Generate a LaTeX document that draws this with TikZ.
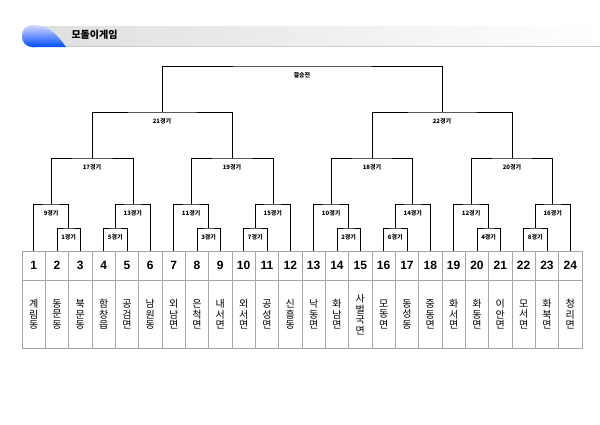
\documentclass[tikz,border=0pt]{standalone}
\usepackage{fontspec}
\setmainfont{Liberation Sans}
\newfontfamily\kor{Noto Sans CJK KR}
\usetikzlibrary{calc,positioning}

\tikzset{
  numcell/.style={draw=gray!70, minimum width=23.33pt, minimum height=29pt, inner sep=0pt, font=\bfseries\fontsize{12}{12}\selectfont},
  namecell/.style={draw=gray!70, minimum width=23.33pt, minimum height=68pt, inner sep=0pt, align=center, font=\kor\fontsize{10}{10.5}\selectfont},
  bracket/.style={draw=black, line width=0.6pt},
  gamelabel/.style={font=\kor\bfseries\fontsize{6}{6}\selectfont, below=3pt}
}
\newcommand{\game}[5]{%
  \path ($(#1)!.5!(#2)$) coordinate (#4-b);
  \coordinate (#4) at (#4-b |- 0,#3);
  \draw[bracket] (#1) |- (#4) -| (#2);
  \node[gamelabel] (#4-lbl) at (#4) {#5};
}

\begin{document}
\begin{tikzpicture}[x=1pt,y=-1pt]
  \useasboundingbox (0,0) rectangle (600,424);

  % Titelbalken
  \shade[left color=gray!25, right color=white] (40,26) rectangle (600,46);
  \draw[gray!40] (60,46) -- (600,46);
  \shade[top color=blue!15, bottom color=blue!70!cyan] (32,25) .. controls (50,25) and (58,36) .. (66,47) -- (32,47) arc (90:270:-0.01pt) -- cycle;
  \shade[top color=blue!15, bottom color=blue!70!cyan, rounded corners=10pt] (22,25) rectangle (45,47);
  \node[font=\kor\bfseries\fontsize{10}{10}\selectfont, anchor=west] (title) at (68,35) {모돌이게임};

  % Tabelle
  \foreach \n/\name [count=\i] in {
      1/{계\\림\\동}, 2/{동\\문\\동}, 3/{북\\문\\동}, 4/{함\\창\\읍}, 5/{공\\검\\면}, 6/{남\\원\\동},
      7/{외\\남\\면}, 8/{은\\척\\면}, 9/{내\\서\\면}, 10/{외\\서\\면}, 11/{공\\성\\면}, 12/{신\\흥\\동},
      13/{낙\\동\\면}, 14/{화\\남\\면}, 15/{사\\벌\\국\\면}, 16/{모\\동\\면}, 17/{동\\성\\동}, 18/{중\\동\\면},
      19/{화\\서\\면}, 20/{화\\동\\면}, 21/{이\\안\\면}, 22/{모\\서\\면}, 23/{화\\북\\면}, 24/{청\\리\\면}} {
    \node[numcell] (num-\i) at ({22+23.33*(\i-0.5)}, 265.5) {\n};
    \node[namecell, below=0pt of num-\i] (name-\i) {\name};
    \coordinate (t\i) at (num-\i.north);
  }

  % 1회전
  \game{t2}{t3}{228}{g1}{1경기}
  \game{t4}{t5}{228}{g5}{5경기}
  \game{t8}{t9}{228}{g3}{3경기}
  \game{t10}{t11}{228}{g7}{7경기}
  \game{t14}{t15}{228}{g2}{2경기}
  \game{t16}{t17}{228}{g6}{6경기}
  \game{t20}{t21}{228}{g4}{4경기}
  \game{t22}{t23}{228}{g8}{8경기}
  % 2회전
  \game{t1}{g1}{204}{g9}{9경기}
  \game{g5}{t6}{204}{g13}{13경기}
  \game{t7}{g3}{204}{g11}{11경기}
  \game{g7}{t12}{204}{g15}{15경기}
  \game{t13}{g2}{204}{g10}{10경기}
  \game{g6}{t18}{204}{g14}{14경기}
  \game{t19}{g4}{204}{g12}{12경기}
  \game{g8}{t24}{204}{g16}{16경기}
  % 준준결승
  \game{g9}{g13}{158}{g17}{17경기}
  \game{g11}{g15}{158}{g19}{19경기}
  \game{g10}{g14}{158}{g18}{18경기}
  \game{g12}{g16}{158}{g20}{20경기}
  % 준결승, 결승
  \game{g17}{g19}{112}{g21}{21경기}
  \game{g18}{g20}{112}{g22}{22경기}
  \game{g21}{g22}{66}{final}{결승전}
\end{tikzpicture}
\end{document}
